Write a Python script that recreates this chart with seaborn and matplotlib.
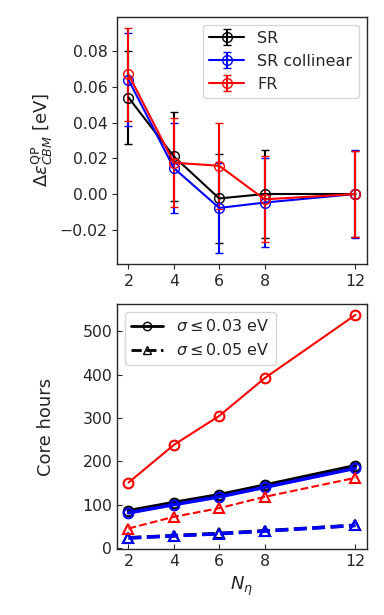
import numpy as np
import pandas as pd
import matplotlib
matplotlib.use("Agg")
import matplotlib.pyplot as plt
from matplotlib.lines import Line2D
import seaborn as sns

# ---- data ----
n_eta = [2, 4, 6, 8, 12]

# top panel: QP correction of CBM with stochastic error bars [eV]
sr_de = [0.054, 0.021, -0.0025, 0.0, 0.0]
sr_err = [0.026, 0.025, 0.025, 0.0245, 0.024]
src_de = [0.064, 0.0145, -0.0078, -0.0048, 0.0]
src_err = [0.026, 0.025, 0.025, 0.0248, 0.0245]
fr_de = [0.067, 0.0175, 0.0158, -0.003, 0.0]
fr_err = [0.026, 0.025, 0.0242, 0.024, 0.024]

# bottom panel: core hours
sr_003 = [86, 105, 123, 145, 190]
src_003 = [81, 100, 118, 140, 184]
fr_003 = [151, 238, 305, 392, 538]
sr_005 = [23.5, 28.5, 33.5, 39.5, 52.5]
src_005 = [23, 28, 33, 39, 52]
fr_005 = [45, 72, 92, 118, 162]

sns.set_style("ticks")
plt.rcParams["font.family"] = ["DejaVu Sans"]
plt.rcParams["mathtext.fontset"] = "dejavusans"

fig = plt.figure(figsize=(3.84, 6.15), dpi=100)
ax1 = fig.add_axes([0.305, 0.571, 0.65, 0.402])
ax2 = fig.add_axes([0.305, 0.107, 0.65, 0.399])

# ---- top: error bars ----
for y, e, c, lab in [(sr_de, sr_err, "k", "SR"),
                     (src_de, src_err, "b", "SR collinear"),
                     (fr_de, fr_err, "r", "FR")]:
    ax1.errorbar(n_eta, y, yerr=e, color=c, marker="o", mfc="none",
                 ms=7, lw=1.5, capsize=3, label=lab)

ax1.set_xticks(n_eta)
ax1.set_yticks([-0.02, 0.0, 0.02, 0.04, 0.06, 0.08])
ax1.tick_params(labelsize=11.3)
ax1.set_ylabel(r"$\Delta\varepsilon^{\rm QP}_{CBM}$ [eV]", fontsize=13)
ax1.yaxis.set_label_coords(-0.25, 0.5)
ax1.legend(loc="upper right", fontsize=11.5, handlelength=2.2)

# ---- bottom: core hours ----
rows = []
for vals, code, sig in [(sr_003, "SR", "0.03"), (src_003, "SRC", "0.03"),
                        (fr_003, "FR", "0.03"), (sr_005, "SR", "0.05"),
                        (src_005, "SRC", "0.05"), (fr_005, "FR", "0.05")]:
    for n, v in zip(n_eta, vals):
        rows.append({"N": n, "hours": v, "code": code, "sigma": sig})
df = pd.DataFrame(rows)

styles = {
    ("SR", "0.03"): ("k", "-", "o", 2.5),
    ("SRC", "0.03"): ("b", "-", "o", 2.5),
    ("FR", "0.03"): ("r", "-", "o", 1.5),
    ("SR", "0.05"): ("k", "--", "^", 2.5),
    ("SRC", "0.05"): ("b", "--", "^", 2.5),
    ("FR", "0.05"): ("r", "--", "^", 1.5),
}
for (code, sig), (c, ls, m, lw) in styles.items():
    sub = df[(df["code"] == code) & (df["sigma"] == sig)]
    sns.lineplot(data=sub, x="N", y="hours", ax=ax2, color=c, linestyle=ls,
                 lw=lw, marker=m, mfc="none", mec=c, mew=1.5, ms=7,
                 legend=False)

ax2.set_xticks(n_eta)
ax2.set_yticks([0, 100, 200, 300, 400, 500])
ax2.tick_params(direction="in", labelsize=11.3)
ax2.set_xlabel(r"$N_\eta$", fontsize=13)
ax2.set_ylabel("Core hours", fontsize=13)
ax2.yaxis.set_label_coords(-0.25, 0.5)

handles = [Line2D([], [], color="k", ls="-", lw=2, marker="o", mfc="none", ms=6),
           Line2D([], [], color="k", ls="--", lw=2, marker="^", mfc="none", ms=6)]
ax2.legend(handles, [r"$\sigma \leq 0.03$ eV", r"$\sigma \leq 0.05$ eV"],
           loc="upper left", fontsize=11.5, handlelength=2.0)

for ax in (ax1, ax2):
    for s in ax.spines.values():
        s.set_linewidth(1.0)

plt.savefig("out.png", dpi=100)
